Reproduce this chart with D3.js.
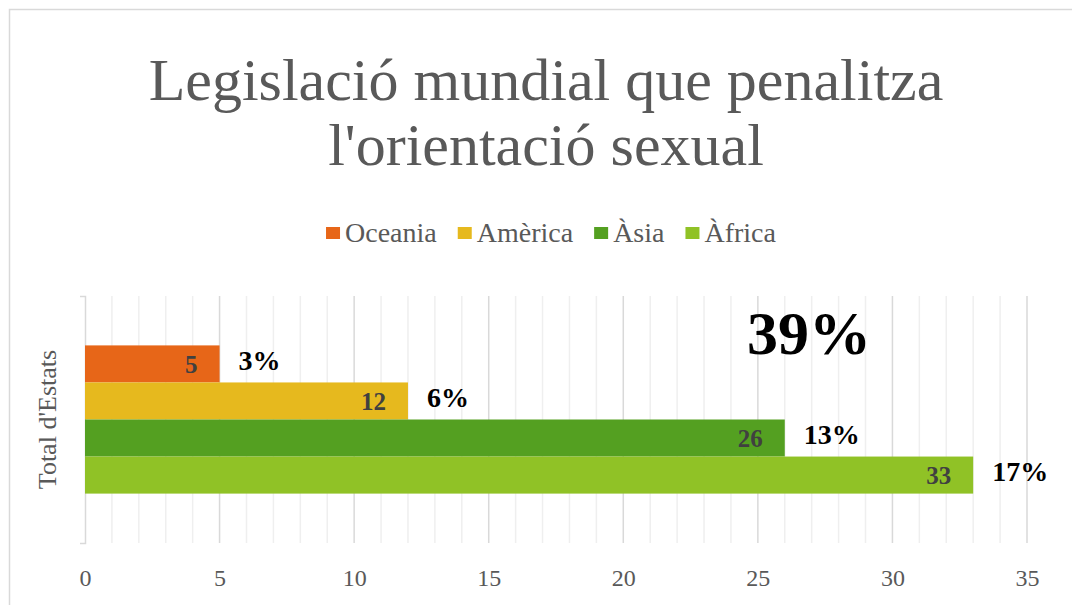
<!DOCTYPE html>
<html>
<head>
<meta charset="utf-8">
<script src="https://cdn.jsdelivr.net/npm/d3@7"></script>
<style>
  body { margin: 0; background: #fff; }
</style>
</head>
<body>
<div id="chart"></div>
<script>
// data
const regions = ["Oceania", "Amèrica", "Àsia", "Àfrica"]
const states = [5, 12, 26, 33]
const shares = ["3%", "6%", "13%", "17%"]
const regionColors = ["#E76618", "#E6B91E", "#54A021", "#90C226"]
const categories = ["Total d'Estats"]
const xTicks = [0, 5, 10, 15, 20, 25, 30, 35]
const totalShare = "39%"
const titleLines = ["Legislació mundial que penalitza", "l'orientació sexual"]

const serif = "'Liberation Serif', 'Times New Roman', serif"

// setup the dimensions
const W = 1072, H = 605
const marginChart = { top: 296, right: 45, bottom: 62, left: 85 }
const widthChart = W - marginChart.left - marginChart.right
const heightChart = H - marginChart.top - marginChart.bottom

var svg = d3.select("#chart")
  .append("svg")
    .attr("width", W)
    .attr("height", H)
    .style("font-family", serif)

// outer border of the chart area
svg.append("rect")
    .attr("x", 9.5).attr("y", 9.5)
    .attr("width", 1100).attr("height", 700)
    .attr("fill", "#fff")
    .attr("stroke", "#d9d9d9")
    .attr("stroke-width", 1.5)

// title
svg.append("g").selectAll("text")
  .data(titleLines)
  .enter().append("text")
    .attr("x", 546)
    .attr("y", (d, i) => 100 + i * 65)
    .attr("text-anchor", "middle")
    .style("font-family", serif)
    .style("font-size", "60px")
    .attr("fill", "#595959")
    .text(d => d)

// legend
var legend = svg.append("g").attr("transform", "translate(0,242)")
var items = legend.selectAll("g")
  .data(regions)
  .enter().append("g")
items.append("rect")
    .attr("y", -15)
    .attr("width", 14).attr("height", 12)
    .attr("fill", (d, i) => regionColors[i])
items.append("text")
    .attr("x", 19)
    .style("font-family", serif)
    .style("font-size", "28px")
    .attr("fill", "#595959")
    .text(d => d)
// place the legend items one after another, centered
let cursor = 0
const offsets = []
items.each(function() {
    offsets.push(cursor)
    cursor += 19 + d3.select(this).select("text").node().getComputedTextLength() + 21
})
const legendStart = 551 - (cursor - 21) / 2
items.attr("transform", (d, i) => `translate(${legendStart + offsets[i]},0)`)

var chart = svg.append("g")
    .attr("transform", "translate(" + marginChart.left + "," + marginChart.top + ")")

// scales
const x = d3.scaleLinear()
    .domain([0, 35])
    .range([0, widthChart])

const yOuter = d3.scaleBand()
    .domain(categories)
    .range([0, heightChart])
    .paddingInner(0.4)
    .paddingOuter(0.2)

const yInner = d3.scaleBand()
    .domain(regions)
    .range([0, yOuter.bandwidth()])

// minor and major gridlines
chart.append("g").selectAll("line")
  .data(d3.range(0, 36, 1).filter(v => v % 5 !== 0))
  .enter().append("line")
    .attr("x1", d => x(d)).attr("x2", d => x(d))
    .attr("y1", 0).attr("y2", heightChart)
    .attr("stroke", "#efefef")
    .attr("stroke-width", 1.5)

chart.append("g").selectAll("line")
  .data(xTicks.slice(1))
  .enter().append("line")
    .attr("x1", d => x(d)).attr("x2", d => x(d))
    .attr("y1", 0).attr("y2", heightChart)
    .attr("stroke", "#d9d9d9")
    .attr("stroke-width", 1.5)

// x axis labels
chart.append("g")
    .attr("transform", `translate(0,${heightChart})`)
    .call(d3.axisBottom(x).tickValues(xTicks).tickSize(0).tickPadding(22))
    .call(g => g.select(".domain").remove())
    .selectAll("text")
      .attr("dy", null)
      .attr("dominant-baseline", "text-before-edge")
      .style("font-family", serif)
      .style("font-size", "24px")
      .attr("fill", "#595959")

// y axis (category) line with its outer ticks
chart.append("g")
    .call(d3.axisLeft(yOuter).tickValues([]).tickSizeOuter(5))
    .select(".domain")
      .attr("stroke", "#d9d9d9")
      .attr("stroke-width", 1.5)

svg.append("text")
    .attr("transform", `translate(56,${marginChart.top + yOuter(categories[0]) + yOuter.bandwidth() / 2}) rotate(-90)`)
    .attr("text-anchor", "middle")
    .style("font-family", serif)
    .style("font-size", "26px")
    .attr("fill", "#595959")
    .text(categories[0])

// bars
var barGroup = chart.append("g")
    .attr("transform", `translate(0,${yOuter(categories[0])})`)

barGroup.selectAll("rect")
  .data(regions)
  .enter().append("rect")
    .attr("x", x(0))
    .attr("y", d => yInner(d))
    .attr("width", (d, i) => x(states[i]) - x(0))
    .attr("height", yInner.bandwidth())
    .attr("fill", (d, i) => regionColors[i])

// value labels inside the bar end
barGroup.selectAll(".value")
  .data(regions)
  .enter().append("text")
    .attr("class", "value")
    .attr("x", (d, i) => x(states[i]) - 22)
    .attr("y", d => yInner(d) + yInner.bandwidth() / 2 + 9)
    .attr("text-anchor", "end")
    .style("font-family", serif)
    .style("font-size", "25px")
    .style("font-weight", "bold")
    .attr("fill", "#404040")
    .text((d, i) => states[i])

// share labels next to the bars
barGroup.selectAll(".share")
  .data(regions)
  .enter().append("text")
    .attr("class", "share")
    .attr("x", (d, i) => x(states[i]) + 19)
    .attr("y", d => yInner(d) + yInner.bandwidth() / 2 + 6)
    .style("font-family", serif)
    .style("font-size", "28px")
    .style("font-weight", "bold")
    .attr("fill", "#000")
    .text((d, i) => shares[i])

// total share annotation
chart.append("text")
    .attr("x", x(26.9))
    .attr("y", 58)
    .attr("text-anchor", "middle")
    .style("font-family", serif)
    .style("font-size", "62px")
    .style("font-weight", "bold")
    .attr("fill", "#000")
    .text(totalShare)
</script>
</body>
</html>
